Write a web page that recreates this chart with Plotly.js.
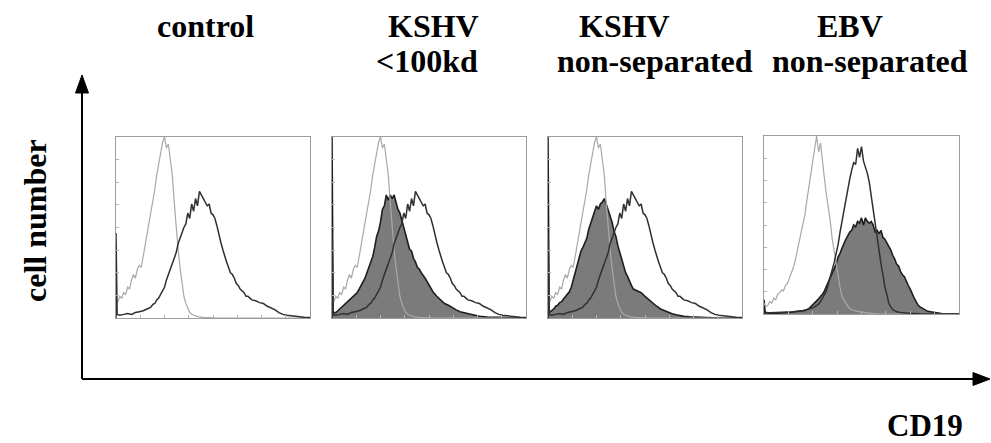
<!DOCTYPE html>
<html>
<head>
<meta charset="utf-8">
<script src="https://cdn.plot.ly/plotly-3.0.1.min.js"></script>
<style>
  html, body { margin: 0; padding: 0; background: #fff; }
  #chart { width: 991px; height: 443px; }
</style>
</head>
<body>
<div id="chart"></div>
<script>
// Panel headings (two lines each)
const panelTitles = [
  ["control", ""],
  ["KSHV", "<100kd"],
  ["KSHV", "non-separated"],
  ["EBV", "non-separated"]
];
const axisLabelY = "cell number";
const axisLabelX = "CD19";

// Isotype control histogram (panels 1-3), channel vs. relative count
const isoX = [0,1,2,3,4,5,6,7,8,9,10,11,12,13,14,15,16,17,18,19,20,21,22,23,24,25,26,27,28,29,30,31,32,33,34,35,36,37,38,40,42,45,48,52,60,100];
const isoY = [10,9,12,11,14,13,17,16,21,24,22,27,29,28,34,40,47,53,58,66,71,79,85,91,97,100,94,96,86,79,64,50,38,28,19,12,8,5,3,1.5,0.8,0.4,0.2,0,0,0];

// CD19 stain of untreated cells (open histogram, panels 1-3)
const cd19X = [0,0,0.6,2,4,6,8,10,12,14,16,18,19,20,21,22,23,24,25,26,27,28,29,30,31,32,33,34,35,36,37,38,39,40,41,42,43,44,45,46,47,48,49,50,51,52,53,54,55,56,57,58,59,60,61,62,63,64,65,66,67,68,69,70,72,74,76,78,80,82,84,86,88,91,94,97,100];
const cd19Y = [0,47,2,1.5,2,2.5,2,3,3.5,4,5,6,7.5,8,10,11,13,15,17,21,24,27,30,33,36,41,44,48,50,52,58,55,63,59,66,62,70,68,66,64,62,63,58,57,55,51,46,42,38,34,31,28,25,24,22,19,18,16,15,14,12,12,11,10,9.5,8.5,8,6.5,5.5,4.5,3,2,1.5,1,0.6,0.4,0.3];

// Treated samples (filled histograms), panels 2 and 3
const kshvX = [0,0,0.6,2,3,4,5,6,7,8,9,10,11,12,13,14,15,16,17,18,19,20,21,22,23,24,25,26,27,28,29,30,31,32,33,34,35,36,37,38,39,40,41,42,43,44,45,46,48,50,52,54,56,58,60,62,64,66,68,70,73,76,80,85,90,100];
const kshv100kdY = [0,100,3,3,4,5,6,6.5,8,9,10,11,12,13,14,16,18,20,22,25,28,31,34,39,45,48,53,60,62,68,65,68,66,68,64,60,58,54,50,46,42,38,37,33,31,28,27,25,22,18,14.5,12,10,8,7,5.5,4.5,3.5,3,2.2,1.5,1,0.5,0.3,0.2,0];
const kshvNonSepY = [0,100,3,4,5,6.5,7,8.5,9,10.5,12,13,14.5,17,21,25,30,34,37,39,42,44,49,52,55,58,62,60,63,64,66,63,60,56,53,48,45,40,36,32,29,25,23,20,18,16,15.5,15,14,12,10,8,6.5,5,4,3,2.4,1.8,1.3,0.9,0.6,0.4,0.2,0.1,0,0];

// Panel 4: isotype, untreated CD19 and EBV-treated CD19
const ebvIsoX = [0,1,2,3,4,5,6,7,8,9,10,11,12,13,14,15,16,17,18,19,20,21,22,23,24,25,26,27,28,29,30,31,32,33,34,35,36,37,38,39,40,41,42,44,46,48,50,54,58,100];
const ebvIsoY = [6,4,5,7,6,9,8,11,12,13.5,13,16,17,20,22,26,30,35,40,45,51,56,64,72,80,87,93,100,91,96,84,76,67,60,52,42,35,28,20,15,10,8,6,3,2,1.5,1,0.5,0,0];
const ebvOpenX = [0,5,10,15,20,22,24,26,28,29,30,31,32,33,34,35,36,37,38,39,40,41,42,43,44,45,46,47,48,49,50,51,52,53,54,55,56,57,58,59,60,61,62,63,64,65,66,68,70,75,80,100];
const ebvOpenY = [0.5,0.8,1,1.2,2,2.5,3,4,5.5,7,9,11,13,17,21,24,29,34,39,46,52,60,65,72,76,81,85,84,93,88,94,86,83,79,74,66,59,51,43,35,28,22,15,11,6,4,2.5,1.2,0.8,0.4,0.2,0];
const ebvFillX = [0,0,0.6,3,6,10,14,18,21,23,25,26,27,28,29,30,31,32,33,34,35,36,37,38,39,40,41,42,43,44,45,46,47,48,49,50,51,52,53,54,55,56,57,58,59,60,61,62,63,64,65,66,67,68,69,70,71,72,73,74,75,76,77,78,79,80,82,84,87,91,100];
const ebvFillY = [0,8,1,0.5,0.4,0.6,1,1.5,2,3,5,6,7,8.5,10,11,13,15.5,18,21,24,26,28,32,34,37,40,42,44,46,47,50,49,52,51,54,50,54,52,51,52,50,46,47,45,47,43,42,40,38,36,33,31,28,27,24,22,21,18,16,14,11,9,7,5,4,2.5,1.5,1,0.3,0];

const W = 991, H = 443;
const fx = p => p / W;
const fy = p => 1 - p / H;

// panel boxes in pixels: [left, right, top, bottom]
const boxes = [
  [116, 310, 137, 318],
  [332, 526, 137, 318],
  [548, 742, 137, 318],
  [764, 959, 136, 314]
];

const ISO = '#a8a8a8', OPEN = '#303030', FILL = '#7b7b7b', EDGE = '#1e1e1e';

function axisName(i, letter) { return letter + (i === 0 ? '' : (i + 1)); }

const traces = [];
function add(i, x, y, kind) {
  const t = {
    x: x, y: y, type: 'scatter', mode: 'lines',
    xaxis: axisName(i, 'x'), yaxis: axisName(i, 'y'),
    hoverinfo: 'skip', showlegend: false
  };
  if (kind === 'fill') {
    t.fill = 'tozeroy'; t.fillcolor = FILL;
    t.line = { color: EDGE, width: 1.6 };
  } else if (kind === 'iso') {
    t.line = { color: ISO, width: 1.2 };
  } else {
    t.line = { color: OPEN, width: 1.5 };
  }
  traces.push(t);
}

// panel 1: control
add(0, isoX, isoY, 'iso');
add(0, cd19X, cd19Y, 'open');
// panel 2: KSHV <100kd
add(1, kshvX, kshv100kdY, 'fill');
add(1, isoX, isoY, 'iso');
add(1, cd19X, cd19Y, 'open');
// panel 3: KSHV non-separated
add(2, kshvX, kshvNonSepY, 'fill');
add(2, isoX, isoY, 'iso');
add(2, cd19X, cd19Y, 'open');
// panel 4: EBV non-separated
add(3, ebvFillX, ebvFillY, 'fill');
add(3, ebvIsoX, ebvIsoY, 'iso');
add(3, ebvOpenX, ebvOpenY, 'open');

const layout = {
  width: W, height: H,
  margin: { l: 0, r: 0, t: 0, b: 0, pad: 0 },
  paper_bgcolor: '#fff', plot_bgcolor: '#fff',
  showlegend: false,
  annotations: [], shapes: []
};

const axisStyle = {
  range: [0, 100], showgrid: false, zeroline: false,
  showline: true, mirror: true, linecolor: '#9c9c9c', linewidth: 1,
  ticks: 'inside', ticklen: 3, tickcolor: '#b5b5b5', tickwidth: 1,
  dtick: 12.5, tick0: 0, showticklabels: false, fixedrange: true
};

boxes.forEach((b, i) => {
  const xa = 'xaxis' + (i === 0 ? '' : (i + 1));
  const ya = 'yaxis' + (i === 0 ? '' : (i + 1));
  layout[xa] = Object.assign({}, axisStyle, {
    domain: [fx(b[0]), fx(b[1])], anchor: axisName(i, 'y')
  });
  layout[ya] = Object.assign({}, axisStyle, {
    domain: [fy(b[3]), fy(b[2])], anchor: axisName(i, 'x')
  });
});

function serif(size) {
  return { family: 'Liberation Serif, Times New Roman, serif', size: size, color: '#000', weight: 700 };
}

function label(text, px, py, angle, size) {
  layout.annotations.push({
    text: text, xref: 'paper', yref: 'paper', x: fx(px), y: fy(py),
    xanchor: 'center', yanchor: 'middle', showarrow: false,
    textangle: angle || 0, font: serif(size || 32)
  });
}

// headings above the panels
const line1 = [[205, 26], [433, 26], [624, 26], [850, 26]];
const line2 = [[205, 61], [427, 61], [655, 61], [870, 61]];
panelTitles.forEach((t, i) => {
  label(t[0], line1[i][0], line1[i][1]);
  if (t[1]) label(t[1], line2[i][0], line2[i][1]);
});

label(axisLabelY, 35, 221, -90, 32);
label(axisLabelX, 925, 425, 0, 31);

// schematic axis arrows
function seg(x0, y0, x1, y1) {
  layout.shapes.push({
    type: 'line', xref: 'paper', yref: 'paper',
    x0: fx(x0), y0: fy(y0), x1: fx(x1), y1: fy(y1),
    line: { color: '#000', width: 2 }
  });
}
function tri(pts) {
  const d = 'M' + pts.map(p => fx(p[0]) + ',' + fy(p[1])).join(' L') + ' Z';
  layout.shapes.push({
    type: 'path', xref: 'paper', yref: 'paper', path: d,
    fillcolor: '#000', line: { color: '#000', width: 1 }
  });
}
seg(82, 379, 82, 92);
tri([[82, 75], [75.5, 93], [88.5, 93]]);
seg(82, 379, 975, 379);
tri([[990, 379], [973, 372.5], [973, 385.5]]);

Plotly.newPlot('chart', traces, layout, { staticPlot: true, displayModeBar: false });
</script>
</body>
</html>
